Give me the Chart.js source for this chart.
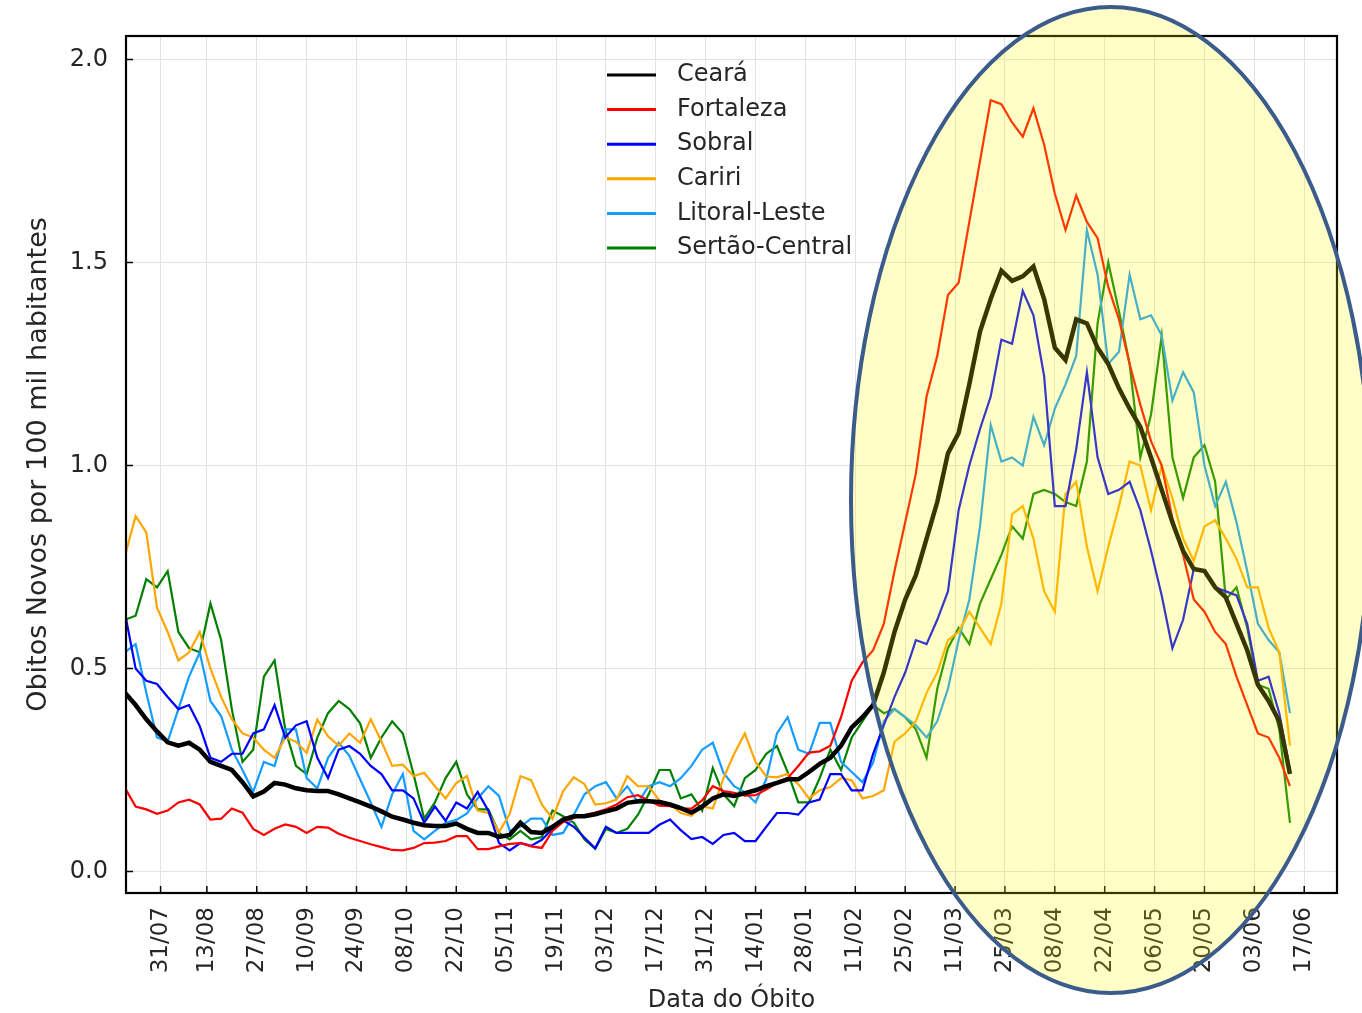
<!DOCTYPE html>
<html>
<head>
<meta charset="utf-8">
<script src="https://cdn.jsdelivr.net/npm/chart.js@4.4.1/dist/chart.umd.min.js"></script>
<style>
  html, body { margin: 0; padding: 0; background: #fff; }
  canvas { display: block; }
</style>
</head>
<body>
<canvas id="chart" width="1362" height="1013"></canvas>
<script>
// Óbitos novos por 100 mil habitantes (média móvel), Ceará e regiões.
// Uma amostra a cada 3 dias, de 21/07/2020 a 13/06/2021.
const DAY = 864e5
const origin = Date.UTC(2020, 6, 31)          // 31/07/2020 = dia 0 do eixo x
const firstSample = Date.UTC(2020, 6, 21)
const sampleStep = 3

const tickLabels = ["31/07", "13/08", "27/08", "10/09", "24/09", "08/10", "22/10", "05/11",
  "19/11", "03/12", "17/12", "31/12", "14/01", "28/01", "11/02", "25/02", "11/03", "25/03",
  "08/04", "22/04", "06/05", "20/05", "03/06", "17/06"]
const yTicks = [0, 0.5, 1.0, 1.5, 2.0]

const ceara = [
  0.44, 0.41, 0.375, 0.345, 0.318, 0.31, 0.317, 0.30, 0.27, 0.26,
  0.25, 0.22, 0.185, 0.197, 0.218, 0.214, 0.205, 0.20, 0.198, 0.198,
  0.19, 0.18, 0.17, 0.16, 0.148, 0.135, 0.128, 0.12, 0.114, 0.112,
  0.112, 0.118, 0.105, 0.095, 0.095, 0.085,
  0.09, 0.12, 0.097, 0.095, 0.11, 0.128, 0.136, 0.136, 0.141, 0.148,
  0.155, 0.169, 0.173, 0.173, 0.171, 0.165, 0.156, 0.145, 0.16, 0.18,
  0.19, 0.186, 0.193, 0.20, 0.21, 0.218, 0.227, 0.227, 0.245, 0.265,
  0.28, 0.31, 0.355, 0.38, 0.41, 0.49, 0.59,
  0.67, 0.73, 0.82, 0.91, 1.03, 1.08, 1.20, 1.33, 1.41, 1.48,
  1.455, 1.466, 1.49, 1.41, 1.29, 1.26, 1.36, 1.35, 1.29, 1.25,
  1.19, 1.14, 1.095, 1.02, 0.94, 0.86, 0.79, 0.745, 0.74, 0.70,
  0.675, 0.61, 0.545, 0.46, 0.42, 0.37, 0.24
]
const fortaleza = [
  0.206, 0.16, 0.153, 0.142, 0.15, 0.17, 0.177, 0.165, 0.128, 0.13,
  0.155, 0.145, 0.105, 0.09, 0.105, 0.116, 0.11, 0.095, 0.11, 0.108,
  0.093, 0.083, 0.075, 0.067, 0.06, 0.053, 0.052, 0.058, 0.07, 0.071,
  0.075, 0.087, 0.087, 0.055, 0.055, 0.062,
  0.068, 0.07, 0.062, 0.058, 0.10, 0.122, 0.132, 0.139, 0.145, 0.153,
  0.165, 0.183, 0.188, 0.175, 0.162, 0.161, 0.155, 0.155, 0.175, 0.21,
  0.198, 0.194, 0.187, 0.188, 0.202, 0.218, 0.23, 0.26, 0.293, 0.296,
  0.31, 0.38, 0.47, 0.515, 0.545, 0.61, 0.74,
  0.86, 0.98, 1.17, 1.27, 1.42, 1.45, 1.60, 1.75, 1.90, 1.89,
  1.845, 1.81, 1.88, 1.79, 1.67, 1.58, 1.665, 1.60, 1.56, 1.44,
  1.36, 1.25, 1.15, 1.06, 1.00, 0.87, 0.78, 0.67, 0.64, 0.59,
  0.56, 0.48, 0.41, 0.34, 0.33, 0.28, 0.21
]
const sobral = [
  0.637, 0.50, 0.47, 0.462, 0.43, 0.40, 0.41, 0.358, 0.28, 0.27,
  0.29, 0.29, 0.34, 0.35, 0.41, 0.33, 0.36, 0.37, 0.28, 0.23,
  0.30, 0.309, 0.29, 0.26, 0.24, 0.20, 0.20, 0.18, 0.12, 0.16,
  0.125, 0.17, 0.155, 0.196, 0.15, 0.07,
  0.052, 0.07, 0.063, 0.078, 0.105, 0.126, 0.11, 0.083, 0.057, 0.11,
  0.095, 0.095, 0.095, 0.095, 0.115, 0.128, 0.102, 0.08, 0.085, 0.068,
  0.09, 0.095, 0.075, 0.075, 0.11, 0.144, 0.144, 0.14, 0.17, 0.177,
  0.24, 0.24, 0.20, 0.20, 0.29, 0.36, 0.43,
  0.49, 0.57, 0.56, 0.62, 0.69, 0.89, 1.00, 1.09, 1.17, 1.31,
  1.30, 1.43, 1.37, 1.22, 0.90, 0.90, 1.04, 1.23, 1.02, 0.93,
  0.94, 0.96, 0.89, 0.79, 0.68, 0.55, 0.62, 0.745, 0.74, 0.70,
  0.69, 0.68, 0.61, 0.47, 0.48, 0.39, 0.25
]
const cariri = [
  0.777, 0.875, 0.835, 0.65, 0.59, 0.52, 0.54, 0.59, 0.50, 0.43,
  0.375, 0.34, 0.33, 0.30, 0.28, 0.33, 0.32, 0.292, 0.374, 0.333,
  0.31, 0.34, 0.317, 0.375, 0.32, 0.26, 0.263, 0.235, 0.243, 0.21,
  0.18, 0.218, 0.235, 0.15, 0.144, 0.097,
  0.142, 0.235, 0.225, 0.165, 0.13, 0.198, 0.232, 0.215, 0.165, 0.168,
  0.177, 0.235, 0.21, 0.21, 0.175, 0.165, 0.144, 0.137, 0.16, 0.155,
  0.23, 0.29, 0.34, 0.27, 0.234, 0.232, 0.24, 0.215, 0.18, 0.20,
  0.208, 0.23, 0.225, 0.18, 0.186, 0.20, 0.32,
  0.34, 0.37, 0.44, 0.49, 0.57, 0.59, 0.64, 0.60, 0.56, 0.66,
  0.88, 0.90, 0.82, 0.69, 0.64, 0.93, 0.96, 0.80, 0.69, 0.80,
  0.90, 1.01, 1.00, 0.89, 1.00, 0.92, 0.82, 0.765, 0.85, 0.865,
  0.82, 0.77, 0.70, 0.70, 0.60, 0.54, 0.31
]
const litoralLeste = [
  0.54, 0.56, 0.44, 0.33, 0.32, 0.40, 0.48, 0.54, 0.42, 0.383,
  0.30, 0.25, 0.196, 0.27, 0.26, 0.35, 0.35, 0.23, 0.205, 0.28,
  0.317, 0.285, 0.227, 0.17, 0.11, 0.19, 0.24, 0.10, 0.079, 0.10,
  0.12, 0.127, 0.143, 0.18, 0.21, 0.186,
  0.10, 0.11, 0.13, 0.13, 0.09, 0.095, 0.14, 0.19, 0.21, 0.22,
  0.18, 0.21, 0.17, 0.21, 0.22, 0.21, 0.23, 0.26, 0.30, 0.317,
  0.243, 0.21, 0.195, 0.17, 0.227, 0.34, 0.38, 0.30, 0.29, 0.366,
  0.366, 0.27, 0.245, 0.22, 0.268, 0.37, 0.40,
  0.38, 0.36, 0.33, 0.37, 0.45, 0.57, 0.67, 0.85, 1.10, 1.01,
  1.02, 1.00, 1.12, 1.05, 1.14, 1.20, 1.27, 1.58, 1.47, 1.25,
  1.28, 1.47, 1.36, 1.37, 1.32, 1.16, 1.23, 1.18, 1.00, 0.90,
  0.96, 0.86, 0.74, 0.61, 0.57, 0.54, 0.39
]
const sertaoCentral = [
  0.62, 0.63, 0.72, 0.70, 0.74, 0.59, 0.55, 0.54, 0.66, 0.57,
  0.40, 0.27, 0.30, 0.48, 0.52, 0.35, 0.26, 0.24, 0.33, 0.39,
  0.42, 0.40, 0.365, 0.28, 0.33, 0.37, 0.34, 0.24, 0.13, 0.17,
  0.23, 0.27, 0.19, 0.153, 0.153, 0.095,
  0.079, 0.10, 0.079, 0.085, 0.15, 0.136, 0.12, 0.079, 0.056, 0.105,
  0.095, 0.105, 0.14, 0.19, 0.25, 0.25, 0.18, 0.19, 0.15, 0.255,
  0.19, 0.161, 0.23, 0.25, 0.29, 0.309, 0.245, 0.17, 0.17, 0.23,
  0.30, 0.25, 0.33, 0.37, 0.41, 0.39, 0.40,
  0.38, 0.35, 0.28, 0.45, 0.55, 0.60, 0.56, 0.66, 0.72, 0.78,
  0.85, 0.82, 0.93, 0.94, 0.93, 0.91, 0.90, 1.01, 1.35, 1.50,
  1.38, 1.25, 1.02, 1.125, 1.32, 1.02, 0.92, 1.02, 1.05, 0.96,
  0.67, 0.70, 0.60, 0.46, 0.45, 0.35, 0.12
]

const series = [
  { label: "Ceará", values: ceara, color: "#000000", width: 4.5 },
  { label: "Fortaleza", values: fortaleza, color: "#ff0000", width: 2.2 },
  { label: "Sobral", values: sobral, color: "#0000ff", width: 2.2 },
  { label: "Cariri", values: cariri, color: "#ffa500", width: 2.2 },
  { label: "Litoral-Leste", values: litoralLeste, color: "#149cff", width: 2.2 },
  { label: "Sertão-Central", values: sertaoCentral, color: "#008000", width: 2.2 }
]

const family = '"DejaVu Sans", sans-serif'
const textColor = "#262626"
const gridColor = "#e2e2e2"

// dd/mm -> dias desde 31/07/2020 (jul-dez = 2020, jan-jun = 2021)
function tickDay(label) {
  const [d, m] = label.split("/").map(Number)
  const year = m >= 7 ? 2020 : 2021
  return (Date.UTC(year, m - 1, d) - origin) / DAY
}
const firstDay = (firstSample - origin) / DAY
const sampleDays = ceara.map((_, i) => firstDay + i * sampleStep)

// ticks para dentro + moldura preta do eixo
const framePlugin = {
  id: "frame",
  afterDatasetsDraw(chart) {
    const { ctx, chartArea: a, scales: { x, y } } = chart
    ctx.save()
    ctx.strokeStyle = "#000"
    ctx.lineWidth = 1.5
    ctx.beginPath()
    x.ticks.forEach(t => {
      const px = x.getPixelForValue(t.value)
      ctx.moveTo(px, a.bottom)
      ctx.lineTo(px, a.bottom - 7)
    })
    y.ticks.forEach(t => {
      const py = y.getPixelForValue(t.value)
      ctx.moveTo(a.left, py)
      ctx.lineTo(a.left + 7, py)
    })
    ctx.stroke()
    ctx.lineWidth = 2.2
    ctx.strokeRect(a.left, a.top, a.right - a.left, a.bottom - a.top)
    ctx.restore()
  }
}

// legenda dentro da área do gráfico, sem caixa
const legendPlugin = {
  id: "innerLegend",
  afterDatasetsDraw(chart) {
    const { ctx } = chart
    ctx.save()
    ctx.font = "24px " + family
    ctx.textBaseline = "middle"
    chart.data.datasets.forEach((ds, i) => {
      const yy = 75 + i * 34.6
      ctx.strokeStyle = ds.borderColor
      ctx.lineWidth = 3
      ctx.beginPath()
      ctx.moveTo(607, yy)
      ctx.lineTo(656, yy)
      ctx.stroke()
      ctx.fillStyle = textColor
      ctx.fillText(ds.label, 677, yy)
    })
    ctx.restore()
  }
}

// destaque amarelo em elipse sobre a segunda onda
const highlightPlugin = {
  id: "highlight",
  beforeDraw(chart) {
    const { ctx, width, height } = chart
    ctx.save()
    ctx.fillStyle = "#fff"
    ctx.fillRect(0, 0, width, height)
    ctx.restore()
  },
  afterDraw(chart) {
    const { ctx } = chart
    ctx.save()
    ctx.beginPath()
    ctx.ellipse(1111, 500, 260, 493, 0, 0, Math.PI * 2)
    ctx.fillStyle = "rgba(255, 250, 0, 0.22)"
    ctx.fill()
    ctx.lineWidth = 4
    ctx.strokeStyle = "#3b5b8a"
    ctx.stroke()
    ctx.restore()
  }
}

new Chart(document.getElementById("chart"), {
  type: "line",
  data: {
    datasets: series.map(s => ({
      label: s.label,
      data: sampleDays.map((d, i) => ({ x: d, y: s.values[i] })),
      borderColor: s.color,
      borderWidth: s.width,
      pointRadius: 0,
      tension: 0,
      fill: false
    }))
  },
  options: {
    responsive: false,
    animation: false,
    events: [],
    layout: { padding: { left: 0, right: 25, top: 36, bottom: 0 } },
    plugins: { legend: { display: false }, tooltip: { enabled: false } },
    scales: {
      x: {
        type: "linear",
        min: -9.7,
        max: 330.2,
        afterBuildTicks: s => { s.ticks = tickLabels.map(l => ({ value: tickDay(l) })) },
        afterFit: s => { s.height = 120 },
        ticks: {
          autoSkip: false,
          minRotation: 90,
          maxRotation: 90,
          padding: 14,
          color: textColor,
          font: { family, size: 23 },
          callback: (v, i) => tickLabels[i]
        },
        grid: { color: gridColor, lineWidth: 1, drawTicks: false },
        border: { display: false },
        title: {
          display: true,
          text: "Data do Óbito",
          color: textColor,
          font: { family, size: 24, lineHeight: 1 },
          padding: { top: 0, bottom: 0 }
        }
      },
      y: {
        min: -0.053,
        max: 2.058,
        afterBuildTicks: s => { s.ticks = yTicks.map(v => ({ value: v })) },
        afterFit: s => { s.width = 126 },
        ticks: {
          padding: 18,
          color: textColor,
          font: { family, size: 24 },
          callback: v => v.toFixed(1)
        },
        grid: { color: gridColor, lineWidth: 1, drawTicks: false },
        border: { display: false },
        title: {
          display: true,
          text: "Obitos Novos por 100 mil habitantes",
          color: textColor,
          font: { family, size: 27, lineHeight: 1 },
          padding: { top: 25, bottom: 0 }
        }
      }
    }
  },
  plugins: [highlightPlugin, framePlugin, legendPlugin]
})
</script>
</body>
</html>
